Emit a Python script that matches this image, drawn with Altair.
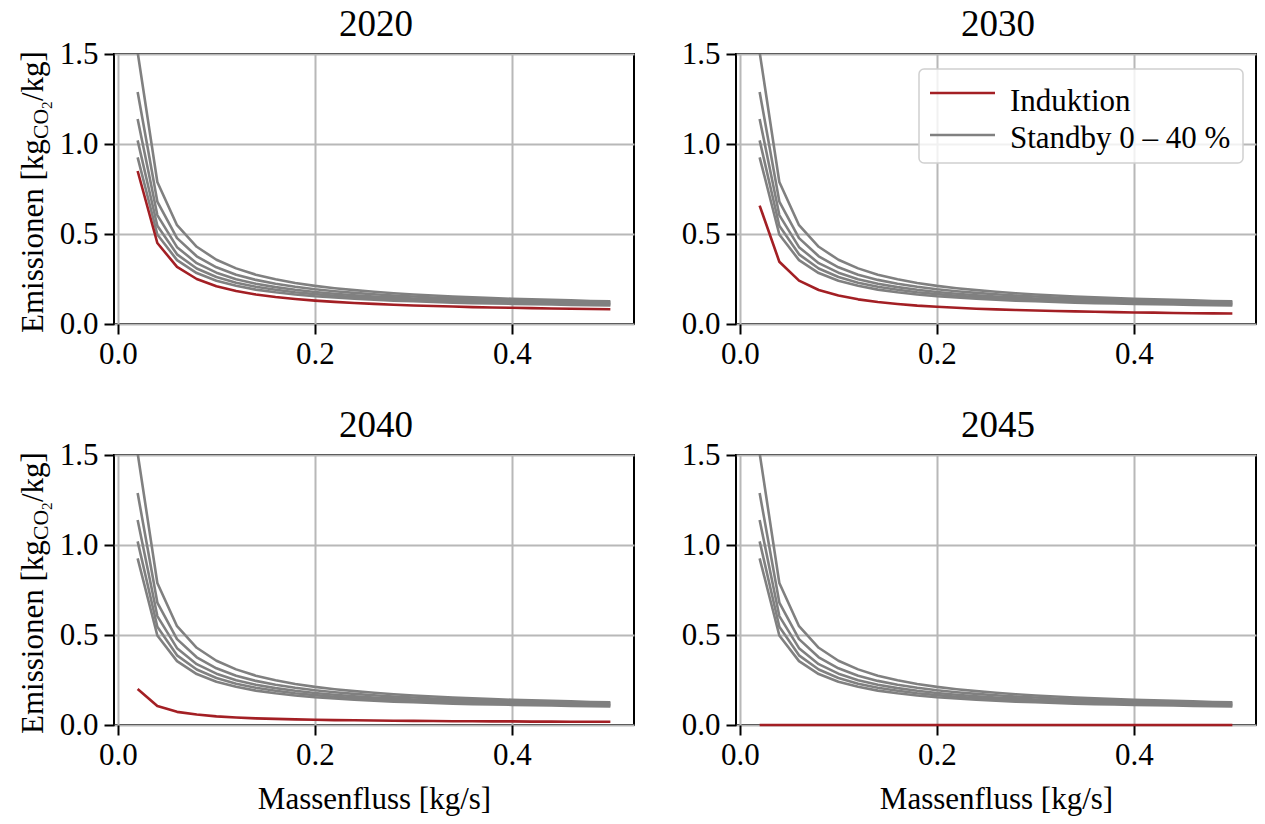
import altair as alt
import pandas as pd

# ---------------- data ----------------
x_vals = [0.02, 0.04, 0.06, 0.08, 0.10, 0.12, 0.14, 0.16, 0.18, 0.20,
          0.22, 0.24, 0.26, 0.28, 0.30, 0.32, 0.34, 0.36, 0.38, 0.40,
          0.42, 0.44, 0.46, 0.48, 0.50]

standby_0 = [0.926, 0.497, 0.355, 0.283, 0.240, 0.212, 0.191, 0.176, 0.164, 0.154,
             0.147, 0.140, 0.135, 0.130, 0.126, 0.122, 0.119, 0.116, 0.114, 0.112,
             0.110, 0.108, 0.106, 0.104, 0.103]
standby_10 = [1.020, 0.546, 0.387, 0.308, 0.261, 0.229, 0.207, 0.190, 0.176, 0.166,
              0.157, 0.150, 0.144, 0.139, 0.134, 0.130, 0.127, 0.124, 0.121, 0.118,
              0.116, 0.114, 0.112, 0.111, 0.109]
standby_20 = [1.139, 0.605, 0.427, 0.338, 0.285, 0.249, 0.224, 0.205, 0.190, 0.178,
              0.168, 0.160, 0.153, 0.148, 0.142, 0.138, 0.134, 0.131, 0.128, 0.125,
              0.122, 0.120, 0.118, 0.116, 0.114]
standby_30 = [1.289, 0.680, 0.477, 0.376, 0.315, 0.274, 0.245, 0.224, 0.207, 0.193,
              0.182, 0.173, 0.165, 0.158, 0.153, 0.147, 0.143, 0.139, 0.135, 0.132,
              0.129, 0.127, 0.124, 0.122, 0.120]
standby_40 = [1.510, 0.789, 0.549, 0.429, 0.357, 0.309, 0.274, 0.249, 0.228, 0.212,
              0.199, 0.188, 0.179, 0.171, 0.164, 0.158, 0.153, 0.148, 0.144, 0.140,
              0.137, 0.134, 0.131, 0.128, 0.126]

induktion_2020 = [0.850, 0.450, 0.317, 0.250, 0.210, 0.183, 0.164, 0.150, 0.139, 0.130,
                  0.123, 0.117, 0.112, 0.107, 0.103, 0.100, 0.097, 0.094, 0.092, 0.090,
                  0.088, 0.086, 0.085, 0.083, 0.082]
induktion_2030 = [0.658, 0.346, 0.241, 0.189, 0.158, 0.137, 0.122, 0.111, 0.102, 0.096,
                  0.090, 0.085, 0.081, 0.078, 0.075, 0.072, 0.070, 0.068, 0.066, 0.064,
                  0.063, 0.061, 0.060, 0.059, 0.058]
induktion_2040 = [0.200, 0.105, 0.073, 0.058, 0.048, 0.042, 0.037, 0.034, 0.031, 0.029,
                  0.027, 0.026, 0.025, 0.024, 0.023, 0.022, 0.021, 0.021, 0.020, 0.020,
                  0.019, 0.019, 0.018, 0.018, 0.018]
induktion_2045 = [0.0, 0.0, 0.0, 0.0, 0.0, 0.0, 0.0, 0.0, 0.0, 0.0,
                  0.0, 0.0, 0.0, 0.0, 0.0, 0.0, 0.0, 0.0, 0.0, 0.0,
                  0.0, 0.0, 0.0, 0.0, 0.0]

years = ["2020", "2030", "2040", "2045"]
induktion = [induktion_2020, induktion_2030, induktion_2040, induktion_2045]
standby_names = ["Standby 0 %", "Standby 10 %", "Standby 20 %", "Standby 30 %", "Standby 40 %"]
standby = [standby_0, standby_10, standby_20, standby_30, standby_40]

x_ticks = [0.0, 0.2, 0.4]
y_ticks = [0.0, 0.5, 1.0, 1.5]

legend_labels = ["Induktion", "Standby 0 – 40 %"]
x_title = "Massenfluss [kg/s]"
y_title_parts = ["Emissionen [kg", "CO", "2", "/kg]"]

# ---------------- style ----------------
FONT = "Liberation Serif"
RED = "#a31f24"
GRAY = "#808080"
FS = 31
W, H = 520, 270

gray_rows = []
for name, vals in zip(standby_names, standby):
    for xv, yv in zip(x_vals, vals):
        gray_rows.append({"curve": name, "x": xv, "y": yv})
gray_df = pd.DataFrame(gray_rows)

one = pd.DataFrame({"_": [0]})


def text_layer(txt, px, py, size, angle=0, align="left"):
    kw = dict(align=align, baseline="alphabetic", font=FONT, fontSize=size, color="black")
    if angle:
        kw["angle"] = angle
    return alt.Chart(one).mark_text(**kw).encode(
        x=alt.value(px), y=alt.value(py), text=alt.value(txt))


def panel(idx):
    year = years[idx]
    left = idx % 2 == 0
    bottom = idx >= 2
    red_df = pd.DataFrame({"x": x_vals, "y": induktion[idx]})

    x_axis = alt.Axis(values=x_ticks, format=".1f", title=x_title if bottom else None)
    y_axis = alt.Axis(values=y_ticks, format=".1f", title=None)
    x_enc = alt.X("x:Q", scale=alt.Scale(domain=[-0.004, 0.524], nice=False, zero=False), axis=x_axis)
    y_enc = alt.Y("y:Q", scale=alt.Scale(domain=[0, 1.5], nice=False, zero=False), axis=y_axis)

    layers = [
        alt.Chart(gray_df).mark_line(color=GRAY, strokeWidth=2.6, clip=True,
                                     strokeJoin="round").encode(x=x_enc, y=y_enc, detail="curve:N"),
        alt.Chart(red_df).mark_line(color=RED, strokeWidth=2.6, strokeJoin="round").encode(x=x_enc, y=y_enc),
        # panel title
        text_layer(year, W / 2 + 2, -18, 37, align="center"),
    ]

    if left:
        # rotated y title with subscripts
        layers += [
            text_layer(y_title_parts[0], -71, 279, FS, angle=270),
            text_layer(y_title_parts[1], -66, 85, FS * 0.7, angle=270),
            text_layer(y_title_parts[2], -62, 55, FS * 0.49, angle=270),
            text_layer(y_title_parts[3], -71, 47, FS, angle=270),
        ]

    if idx == 1:
        layers.append(
            alt.Chart(one).mark_rect(fill="white", fillOpacity=0.8, stroke="#d0d0d0",
                                     strokeWidth=1.5, cornerRadius=5).encode(
                x=alt.value(183), x2=alt.value(507), y=alt.value(15), y2=alt.value(109))
        )
        for label, col, ly, ty in [(legend_labels[0], RED, 39, 57), (legend_labels[1], GRAY, 81, 94)]:
            layers.append(
                alt.Chart(one).mark_rule(color=col, strokeWidth=2.6).encode(
                    x=alt.value(194), x2=alt.value(259), y=alt.value(ly))
            )
            layers.append(text_layer(label, 274, ty, FS))

    return alt.layer(*layers).properties(width=W, height=H)


row1 = alt.hconcat(panel(0), panel(1), spacing=45)
row2 = alt.hconcat(panel(2), panel(3), spacing=45)

chart = alt.vconcat(row1, row2, spacing=36).properties(
    padding={"left": 16, "top": 5, "right": 5, "bottom": 5}
).configure_view(
    stroke="black", strokeWidth=2
).configure_axis(
    grid=True, gridColor="#b8b8b8", gridWidth=2,
    domain=False,
    ticks=True, tickColor="black", tickSize=10, tickWidth=2,
    labelFont=FONT, labelFontSize=FS, labelColor="black", labelPadding=5,
    titleFont=FONT, titleFontSize=FS, titleColor="black", titleFontWeight="normal",
    titlePadding=14,
).configure_axisY(labelPadding=6)

chart.save("out.html", embed_options={"renderer": "svg", "actions": False})
